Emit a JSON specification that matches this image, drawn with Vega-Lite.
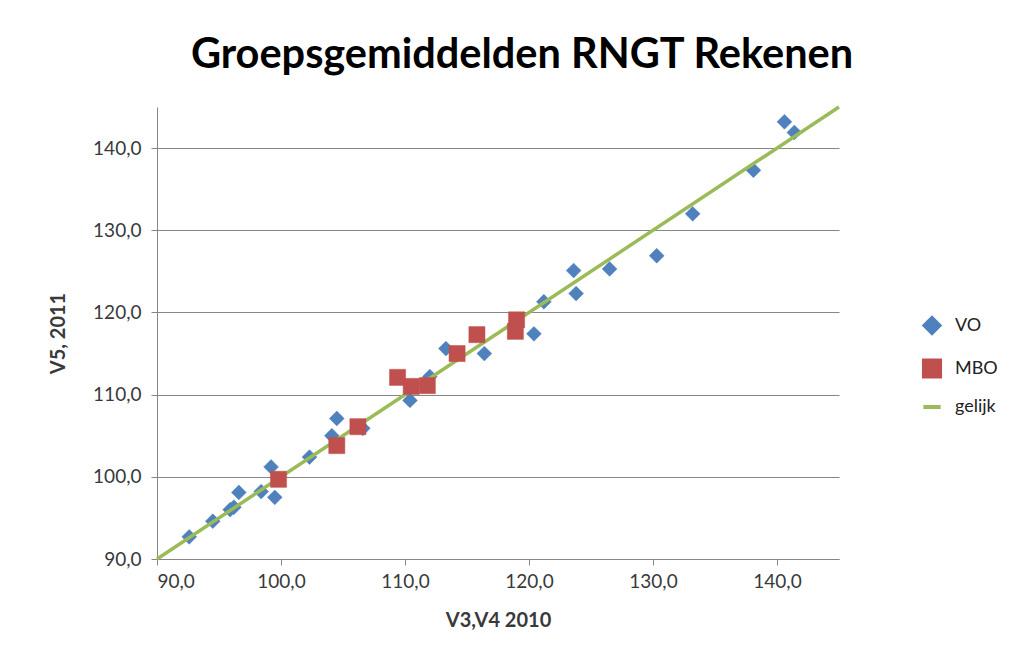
{
  "$schema": "https://vega.github.io/schema/vega-lite/v6.json",
  "width": 682,
  "height": 452,
  "autosize": "none",
  "padding": {"left": 157, "top": 107, "right": 185, "bottom": 98},
  "background": "white",
  "title": {
    "text": "Groepsgemiddelden RNGT Rekenen",
    "anchor": "middle",
    "frame": "group",
    "dx": 24,
    "offset": 24,
    "font": "Lato",
    "fontSize": 41.5,
    "fontWeight": "bold",
    "color": "#000000"
  },
  "datasets": {
    "punten": [
      {"series": "VO", "x": 92.6, "y": 92.7},
      {"series": "VO", "x": 94.5, "y": 94.6},
      {"series": "VO", "x": 95.9, "y": 96.0},
      {"series": "VO", "x": 96.2, "y": 96.3},
      {"series": "VO", "x": 96.6, "y": 98.1},
      {"series": "VO", "x": 98.4, "y": 98.2},
      {"series": "VO", "x": 99.2, "y": 101.2},
      {"series": "VO", "x": 99.5, "y": 97.5},
      {"series": "VO", "x": 102.3, "y": 102.4},
      {"series": "VO", "x": 104.1, "y": 105.0},
      {"series": "VO", "x": 104.5, "y": 107.1},
      {"series": "VO", "x": 106.6, "y": 105.9},
      {"series": "VO", "x": 110.4, "y": 109.3},
      {"series": "VO", "x": 112.0, "y": 112.2},
      {"series": "VO", "x": 113.3, "y": 115.6},
      {"series": "VO", "x": 116.4, "y": 115.0},
      {"series": "VO", "x": 120.4, "y": 117.4},
      {"series": "VO", "x": 121.2, "y": 121.3},
      {"series": "VO", "x": 123.6, "y": 125.1},
      {"series": "VO", "x": 123.8, "y": 122.3},
      {"series": "VO", "x": 126.5, "y": 125.3},
      {"series": "VO", "x": 130.3, "y": 126.9},
      {"series": "VO", "x": 133.2, "y": 132.0},
      {"series": "VO", "x": 138.1, "y": 137.3},
      {"series": "VO", "x": 140.6, "y": 143.2},
      {"series": "VO", "x": 141.4, "y": 141.9},
      {"series": "MBO", "x": 99.8, "y": 99.7},
      {"series": "MBO", "x": 104.5, "y": 103.8},
      {"series": "MBO", "x": 106.2, "y": 106.1},
      {"series": "MBO", "x": 109.4, "y": 112.1},
      {"series": "MBO", "x": 110.5, "y": 111.0},
      {"series": "MBO", "x": 111.8, "y": 111.1},
      {"series": "MBO", "x": 114.2, "y": 115.0},
      {"series": "MBO", "x": 115.8, "y": 117.3},
      {"series": "MBO", "x": 119.0, "y": 119.1},
      {"series": "MBO", "x": 118.9, "y": 117.7}
    ],
    "gelijk": [
      {"x": 90, "y": 90},
      {"x": 145, "y": 145}
    ]
  },
  "encoding": {
    "x": {
      "field": "x",
      "type": "quantitative",
      "scale": {"domain": [90, 145], "nice": false, "zero": false},
      "axis": {
        "title": "V3,V4 2010",
        "values": [90, 100, 110, 120, 130, 140],
        "labelExpr": "replace(format(datum.value, '.1f'), '.', ',')",
        "grid": false,
        "domainColor": "#868686",
        "tickColor": "#868686",
        "tickSize": 6,
        "labelFont": "Lato",
        "labelFontSize": 19,
        "labelColor": "#3a3a3a",
        "labelPadding": 7,
        "titleFont": "Lato",
        "titleFontSize": 20,
        "titleFontWeight": "bold",
        "titleColor": "#3a3a3a",
        "titlePadding": 19
      }
    },
    "y": {
      "field": "y",
      "type": "quantitative",
      "scale": {"domain": [90, 145], "nice": false, "zero": false},
      "axis": {
        "title": "V5, 2011",
        "values": [90, 100, 110, 120, 130, 140],
        "labelExpr": "replace(format(datum.value, '.1f'), '.', ',')",
        "grid": true,
        "gridColor": "#868686",
        "gridWidth": 1.2,
        "domainColor": "#868686",
        "tickColor": "#868686",
        "tickSize": 6,
        "labelFont": "Lato",
        "labelFontSize": 19,
        "labelColor": "#3a3a3a",
        "labelPadding": 10,
        "titleFont": "Lato",
        "titleFontSize": 20,
        "titleFontWeight": "bold",
        "titleColor": "#3a3a3a",
        "titlePadding": 24
      }
    }
  },
  "layer": [
    {
      "data": {"name": "punten"},
      "transform": [{"filter": "datum.series === 'VO'"}],
      "mark": {"type": "point", "filled": true, "opacity": 1, "strokeWidth": 0.5},
      "encoding": {
        "color": {"field": "series", "type": "nominal", "scale": {"domain": ["VO", "MBO", "gelijk"], "range": ["#4F81BD", "#C0504D", "#9BBB59"]}, "title": null,
          "legend": {
            "orient": "none", "legendX": 764, "legendY": 209,
            "labelFont": "Lato", "labelFontSize": 18, "labelColor": "#222222",
            "labelOffset": 12, "rowPadding": 11, "padding": 0, "symbolStrokeWidth": 4,
            "encode": {"symbols": {
              "strokeWidth": {"condition": {"test": "datum.value === 'gelijk'", "value": 4}, "value": 0.5},
              "size": {"condition": [{"test": "datum.value === 'gelijk'", "value": 900}, {"test": "datum.value === 'MBO'", "value": 200}], "value": 150}
            }}
          }},
        "stroke": {"field": "series", "type": "nominal", "scale": {"domain": ["VO", "MBO", "gelijk"], "range": ["#4F81BD", "#C0504D", "#9BBB59"]}, "title": null,
          "legend": {
            "orient": "none", "legendX": 764, "legendY": 209,
            "labelFont": "Lato", "labelFontSize": 18, "labelColor": "#222222",
            "labelOffset": 12, "rowPadding": 11, "padding": 0, "symbolStrokeWidth": 4,
            "encode": {"symbols": {
              "strokeWidth": {"condition": {"test": "datum.value === 'gelijk'", "value": 4}, "value": 0.5},
              "size": {"condition": [{"test": "datum.value === 'gelijk'", "value": 900}, {"test": "datum.value === 'MBO'", "value": 200}], "value": 150}
            }}
          }},
        "shape": {"field": "series", "type": "nominal", "scale": {"domain": ["VO", "MBO", "gelijk"], "range": ["diamond", "square", "stroke"]}, "title": null,
          "legend": {
            "orient": "none", "legendX": 764, "legendY": 209,
            "labelFont": "Lato", "labelFontSize": 18, "labelColor": "#222222",
            "labelOffset": 12, "rowPadding": 11, "padding": 0, "symbolStrokeWidth": 4,
            "encode": {"symbols": {
              "strokeWidth": {"condition": {"test": "datum.value === 'gelijk'", "value": 4}, "value": 0.5},
              "size": {"condition": [{"test": "datum.value === 'gelijk'", "value": 900}, {"test": "datum.value === 'MBO'", "value": 200}], "value": 150}
            }}
          }},
        "size": {"field": "series", "type": "nominal", "scale": {"domain": ["VO", "MBO", "gelijk"], "range": [220, 300, 900]}, "title": null,
          "legend": {
            "orient": "none", "legendX": 764, "legendY": 209,
            "labelFont": "Lato", "labelFontSize": 18, "labelColor": "#222222",
            "labelOffset": 12, "rowPadding": 11, "padding": 0, "symbolStrokeWidth": 4,
            "encode": {"symbols": {
              "strokeWidth": {"condition": {"test": "datum.value === 'gelijk'", "value": 4}, "value": 0.5},
              "size": {"condition": [{"test": "datum.value === 'gelijk'", "value": 900}, {"test": "datum.value === 'MBO'", "value": 200}], "value": 150}
            }}
          }}
      }
    },
    {
      "data": {"name": "gelijk"},
      "mark": {"type": "line", "color": "#9BBB59", "strokeWidth": 3.5},
      "encoding": {}
    },
    {
      "data": {"name": "punten"},
      "transform": [{"filter": "datum.series === 'MBO'"}],
      "mark": {"type": "point", "filled": true, "opacity": 1, "strokeWidth": 0.5},
      "encoding": {
        "color": {"field": "series", "type": "nominal", "scale": {"domain": ["VO", "MBO", "gelijk"], "range": ["#4F81BD", "#C0504D", "#9BBB59"]}, "title": null},
        "stroke": {"field": "series", "type": "nominal", "scale": {"domain": ["VO", "MBO", "gelijk"], "range": ["#4F81BD", "#C0504D", "#9BBB59"]}, "title": null},
        "shape": {"field": "series", "type": "nominal", "scale": {"domain": ["VO", "MBO", "gelijk"], "range": ["diamond", "square", "stroke"]}, "title": null},
        "size": {"field": "series", "type": "nominal", "scale": {"domain": ["VO", "MBO", "gelijk"], "range": [220, 300, 900]}, "title": null}
      }
    }
  ],
  "config": {
    "view": {"stroke": null}
  }
}
